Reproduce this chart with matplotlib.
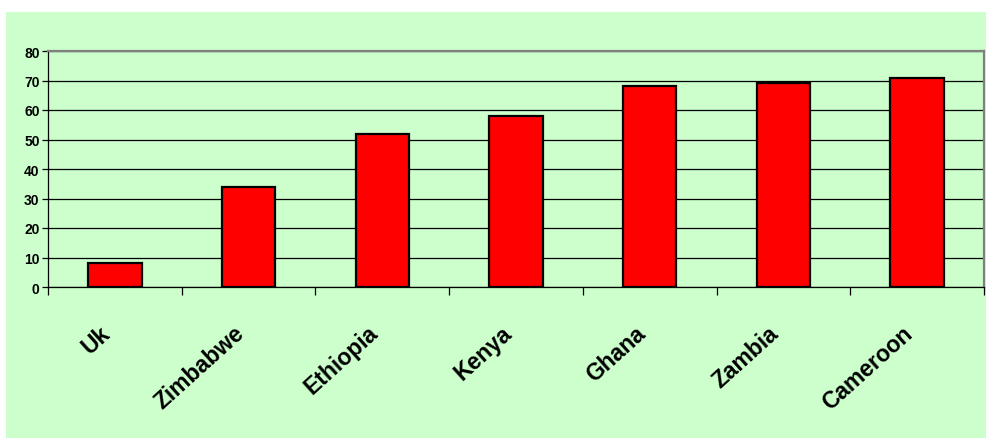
import matplotlib.pyplot as plt
from matplotlib.patches import Rectangle

# data
countries = ['Uk', 'Zimbabwe', 'Ethiopia', 'Kenya', 'Ghana', 'Zambia', 'Cameroon']
values = [8, 34, 52, 58, 68, 69, 71]
yticks = [0, 10, 20, 30, 40, 50, 60, 70, 80]

W, H = 986, 439
fig = plt.figure(figsize=(W / 100, H / 100), dpi=100, facecolor='white')
plt.rcParams['font.family'] = ['Liberation Sans', 'DejaVu Sans']

# light green chart area with a small white margin left/top
fig.patches.append(Rectangle((6 / W, 0), 1 - 6 / W, 1 - 13 / H,
                             transform=fig.transFigure, facecolor='#CCFFCC',
                             edgecolor='none', zorder=-5))

# plot area in pixels: left 48, right 984, top 52, bottom 288
ax = fig.add_axes([48 / W, (H - 288) / H, (984 - 48) / W, (288 - 52) / H])
ax.set_zorder(2)
ax.set_facecolor('#CCFFCC')

x = list(range(len(countries)))
ax.bar(x, values, width=0.4, color='#FF0000', edgecolor='black',
       linewidth=1.6, zorder=3)

ax.set_xlim(-0.5, len(countries) - 0.5)
ax.set_ylim(0, 80)
ax.set_yticks(yticks)
ax.set_yticklabels([str(v) for v in yticks], fontsize=10, fontweight='bold')
ax.yaxis.grid(True, color='black', linewidth=0.9, zorder=1)
ax.set_axisbelow(True)

# category ticks sit on the boundaries between categories
ax.set_xticks([i - 0.5 for i in range(len(countries) + 1)])
ax.set_xticklabels([])
ax.tick_params(axis='x', length=6, width=0.9, color='black', direction='out')
ax.tick_params(axis='y', length=4, width=0.9, color='black', direction='out', pad=2)

for i, name in enumerate(countries):
    ax.text(i, -11.5, name, rotation=42, ha='right', va='top',
            fontsize=16.5, fontweight='bold')

for side in ('top', 'right'):
    ax.spines[side].set_color('#808080')
    ax.spines[side].set_linewidth(1.6)
ax.spines['left'].set_color('black')
ax.spines['bottom'].set_color('black')
ax.spines['left'].set_linewidth(0.9)
ax.spines['bottom'].set_linewidth(0.9)

fig.savefig('out.png', dpi=100, facecolor='white')
